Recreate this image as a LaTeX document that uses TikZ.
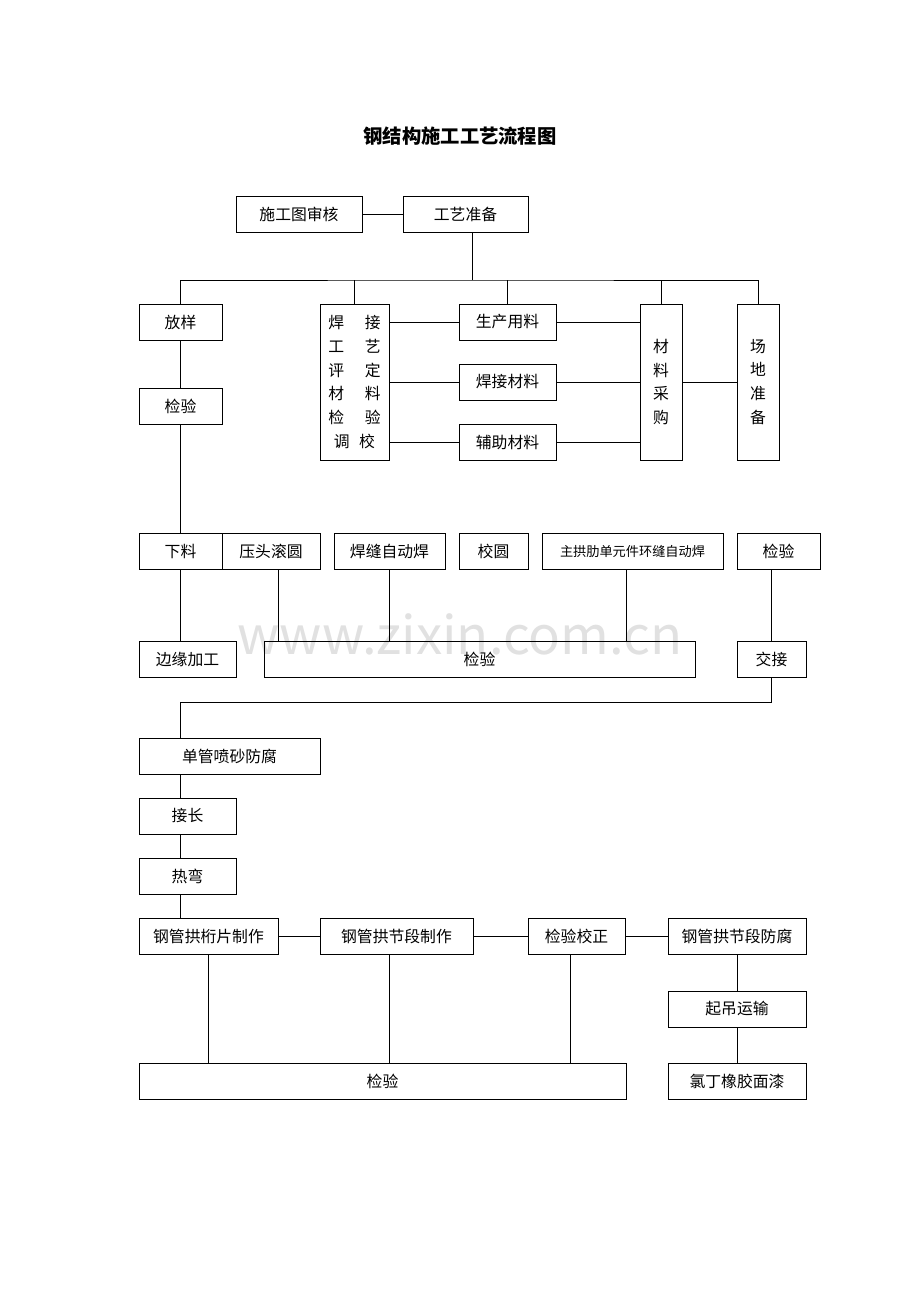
\documentclass[tikz,border=0pt]{standalone}
\usepackage{fontspec}
\setmainfont{Noto Sans CJK SC}
\definecolor{markcolor}{RGB}{225,225,225}
\tikzset{box/.style={draw,rectangle,minimum height=0.72cm,inner sep=0pt,font=\fontsize{9}{11}\selectfont}}
\begin{document}
\begin{tikzpicture}[x=0.02cm,y=-0.02cm,line width=0.5pt]
  \useasboundingbox (0,0) rectangle (920,1302);
  % Watermark
  \node at(460,634)[text=markcolor,font=\fontsize{30}{30}\selectfont](mark){www.zixin.com.cn};
  % Title
  \node at(460,136)[font=\fontsize{11}{13}\selectfont\bfseries](title){钢结构施工工艺流程图};
  % Preparation
  \node at(299,214)[box,minimum width=2.52cm](sctsh){施工图审核};
  \node at(465.5,214)[box,minimum width=2.5cm](gyzb){工艺准备};
  \node at(180.5,322)[box,minimum width=1.66cm](fy){放样};
  \node at(354.5,382)[box,minimum width=1.38cm,minimum height=3.12cm,align=center,font=\fontsize{9}{13.6}\selectfont](hj){焊\hspace{1.3em}接\\工\hspace{1.3em}艺\\评\hspace{1.3em}定\\材\hspace{1.3em}料\\检\hspace{1.3em}验\\调\hspace{0.6em}校};
  \node at(507.5,322)[box,minimum width=1.94cm](scyl){生产用料};
  \node at(507.5,382)[box,minimum width=1.94cm](hjcl){焊接材料};
  \node at(507.5,442)[box,minimum width=1.94cm](fzcl){辅助材料};
  \node at(661,382)[box,minimum width=0.84cm,minimum height=3.12cm,align=center,font=\fontsize{9}{13.6}\selectfont](clcg){材\\料\\采\\购};
  \node at(758,382)[box,minimum width=0.84cm,minimum height=3.12cm,align=center,font=\fontsize{9}{13.6}\selectfont](cdzb){场\\地\\准\\备};
  \node at(180.5,406)[box,minimum width=1.66cm](jy1){检验};
  % Cutting
  \node at(180.5,551)[box,minimum width=1.66cm](xl){下料};
  \node at(271,551)[box,minimum width=1.96cm](ytgy){压头滚圆};
  \node at(389.5,551)[box,minimum width=2.22cm](hfzdh){焊缝自动焊};
  \node at(493.5,551)[box,minimum width=1.38cm](jiaoy){校圆};
  \node at(632.5,551)[box,minimum width=3.62cm,font=\fontsize{7.5}{9}\selectfont](zgl){主拱肋单元件环缝自动焊};
  \node at(778.5,551)[box,minimum width=1.66cm](jy2){检验};
  \node at(187.5,659)[box,minimum width=1.94cm](byjg){边缘加工};
  \node at(479.5,659)[box,minimum width=8.62cm](jy3){检验};
  \node at(771.5,659)[box,minimum width=1.38cm](jj){交接};
  % Pipes
  \node at(229.5,756)[box,minimum width=3.62cm](dgps){单管喷砂防腐};
  \node at(187.5,816)[box,minimum width=1.94cm](jc){接长};
  \node at(187.5,876)[box,minimum width=1.94cm](rw){热弯};
  \node at(208.5,936)[box,minimum width=2.78cm](hpzz){钢管拱桁片制作};
  \node at(396.5,936)[box,minimum width=3.06cm](jdzz){钢管拱节段制作};
  \node at(576.5,936)[box,minimum width=1.94cm](jyjz){检验校正};
  \node at(737,936)[box,minimum width=2.76cm](jdff){钢管拱节段防腐};
  \node at(737,1009)[box,minimum width=2.76cm](qdys){起吊运输};
  \node at(382.5,1081)[box,minimum width=9.74cm](jy4){检验};
  \node at(737,1081)[box,minimum width=2.76cm](ldxj){氯丁橡胶面漆};
  % Connectors
  \coordinate (bus) at(472,280);
  \coordinate (turn) at(180,702);
  \draw (sctsh) -- (gyzb);
  \draw (gyzb.south -| bus) -- (bus);
  \draw (fy.north) |- (bus) -| (cdzb.north);
  \draw (hj.north) -- (hj.north |- bus);
  \draw (scyl.north) -- (scyl.north |- bus);
  \draw (clcg.north) -- (clcg.north |- bus);
  \draw (hj.east |- scyl) -- (scyl.west);
  \draw (hj.east |- hjcl) -- (hjcl.west);
  \draw (hj.east |- fzcl) -- (fzcl.west);
  \draw (scyl.east) -- (clcg.west |- scyl);
  \draw (hjcl.east) -- (clcg.west |- hjcl);
  \draw (fzcl.east) -- (clcg.west |- fzcl);
  \draw (clcg) -- (cdzb);
  \draw (fy) -- (jy1);
  \draw (jy1) -- (xl);
  \draw (xl) -- (xl.south |- byjg.north);
  \draw ([xshift=0.14cm]ytgy.south) -- ([xshift=0.14cm]ytgy.south |- jy3.north);
  \draw (hfzdh.south) -- (hfzdh.south |- jy3.north);
  \draw ([xshift=-0.13cm]zgl.south) -- ([xshift=-0.13cm]zgl.south |- jy3.north);
  \draw (jy2.south -| jj) -- (jj);
  \draw (jj.south) |- (turn) -- (turn |- dgps.north);
  \draw (turn |- dgps.south) -- (turn |- jc.north);
  \draw (turn |- jc.south) -- (turn |- rw.north);
  \draw (turn |- rw.south) -- (turn |- hpzz.north);
  \draw (hpzz) -- (jdzz);
  \draw (jdzz) -- (jyjz);
  \draw (jyjz) -- (jdff);
  \draw (hpzz.south) -- (hpzz.south |- jy4.north);
  \draw ([xshift=-0.15cm]jdzz.south) -- ([xshift=-0.15cm]jdzz.south |- jy4.north);
  \draw ([xshift=-0.13cm]jyjz.south) -- ([xshift=-0.13cm]jyjz.south |- jy4.north);
  \draw (jdff) -- (qdys);
  \draw (qdys) -- (ldxj);
\end{tikzpicture}
\end{document}
